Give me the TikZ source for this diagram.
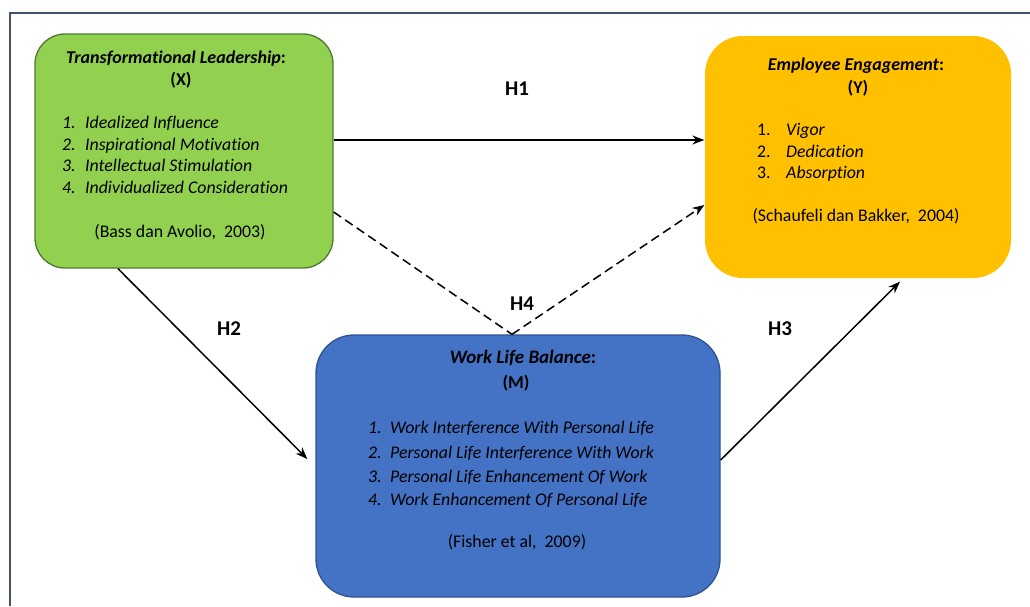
\documentclass[tikz,border=0pt]{standalone}
\usepackage{fontspec}
\setmainfont{Carlito}[Ligatures=NoCommon]
\usetikzlibrary{arrows.meta}
\definecolor{gfill}{HTML}{92D050}
\definecolor{gline}{HTML}{4E7A30}
\definecolor{yfill}{HTML}{FFC000}
\definecolor{bfill}{HTML}{4472C4}
\definecolor{bline}{HTML}{2F528F}
\definecolor{framec}{HTML}{44546A}
\begin{document}
\begin{tikzpicture}[x=1pt,y=-1pt,
  box/.style={rounded corners=#1, line width=1.3pt, inner sep=0pt},
  txt/.style={font=\fontsize{17.8}{20}\selectfont, inner sep=0pt, text=black},
  ttl/.style={font=\fontsize{18}{20}\selectfont\bfseries, inner sep=0pt, text=black},
  hlab/.style={font=\fontsize{21}{24}\selectfont\bfseries, inner sep=0pt},
  conn/.style={line width=1.5pt, -{Stealth[length=12pt,width=9pt]}},
  dconn/.style={line width=1.5pt, dash pattern=on 9pt off 5pt}]
\useasboundingbox (0,0) rectangle (1030,606);
% frame
\draw[framec, line width=2pt] (10,606) -- (10,13) -- (1030,13);
% boxes
\node[box=30pt, draw=gline, fill=gfill, minimum width=298pt, minimum height=234pt] (X) at (184,151) {};
\node[box=38pt, fill=yfill, minimum width=306pt, minimum height=242pt] (Y) at (858,157) {};
\node[box=38pt, draw=bline, fill=bfill, minimum width=404pt, minimum height=262pt] (M) at (518,466) {};
% green text
\node[ttl, anchor=base] (Xt) at (176,63) {\textit{Transformational Leadership}:};
\node[ttl, anchor=base] (Xv) at (181,85) {(X)};
\node[txt, anchor=base west] (X1) at (62,128) {\itshape\makebox[23pt][l]{1.}Idealized Influence};
\node[txt, anchor=base west] (X2) at (62,150) {\itshape\makebox[23pt][l]{2.}Inspirational Motivation};
\node[txt, anchor=base west] (X3) at (62,171) {\itshape\makebox[23pt][l]{3.}Intellectual Stimulation};
\node[txt, anchor=base west] (X4) at (62,193) {\itshape\makebox[23pt][l]{4.}Individualized Consideration};
\node[txt, anchor=base] (Xc) at (180,237) {(Bass dan Avolio,\ \ 2003)};
% yellow text
\node[ttl, anchor=base] (Yt) at (856,70) {\textit{Employee Engagement}:};
\node[ttl, anchor=base] (Yv) at (858,93) {(Y)};
\node[txt, anchor=base west] (Y1) at (757,135) {\makebox[29pt][l]{1.}\textit{Vigor}};
\node[txt, anchor=base west] (Y2) at (757,157) {\makebox[29pt][l]{2.}\textit{Dedication}};
\node[txt, anchor=base west] (Y3) at (757,178) {\makebox[29pt][l]{3.}\textit{Absorption}};
\node[txt, anchor=base] (Yc) at (856,221) {(Schaufeli dan Bakker,\ \ 2004)};
% blue text
\node[ttl, anchor=base, font=\fontsize{19}{21}\selectfont\bfseries] (Mt) at (523,363) {\textit{Work Life Balance}:};
\node[ttl, anchor=base] (Mv) at (516,388) {(M)};
\node[txt, anchor=base west] (M1) at (368,433) {\itshape\makebox[22pt][l]{1.}Work Interference With Personal Life};
\node[txt, anchor=base west] (M2) at (368,458) {\itshape\makebox[22pt][l]{2.}Personal Life Interference With Work};
\node[txt, anchor=base west] (M3) at (368,482) {\itshape\makebox[22pt][l]{3.}Personal Life Enhancement Of Work};
\node[txt, anchor=base west] (M4) at (368,505) {\itshape\makebox[22pt][l]{4.}Work Enhancement Of Personal Life};
\node[txt, anchor=base] (Mc) at (517,547) {(Fisher et al,\ \ 2009)};
% connectors
\draw[conn] ([yshift=11pt]X.east) -- ([yshift=17pt]Y.west);
\draw[conn] ([xshift=-66pt]X.south) -- ([xshift=-8pt,yshift=7pt]M.west);
\draw[conn] ([yshift=6pt]M.east) -- ([xshift=42pt,yshift=-3pt]Y.south);
\coordinate (H4m) at ([xshift=-6pt]M.north);
\draw[dconn] ([yshift=-61pt]X.east) -- (H4m);
\draw[dconn, -{Stealth[length=12pt,width=9pt]}] (H4m) -- ([yshift=-48pt]Y.west);
% labels
\node[hlab] (H1) at (517,89) {H1};
\node[hlab] (H2) at (229,329) {H2};
\node[hlab] (H3) at (780,329) {H3};
\node[hlab] (H4) at (522,304) {H4};
\end{tikzpicture}
\end{document}
